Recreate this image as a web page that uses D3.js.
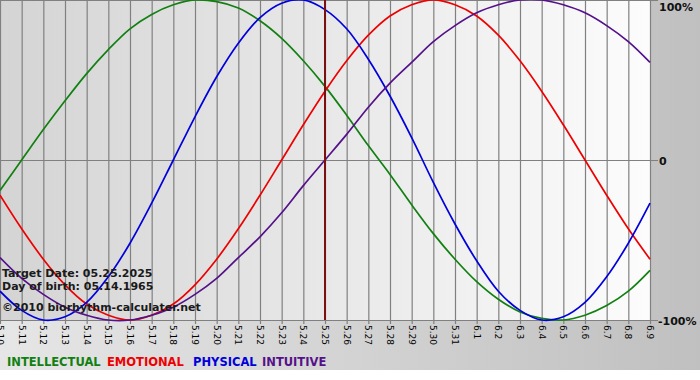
<!DOCTYPE html>
<html>
<head>
<meta charset="utf-8">
<script src="https://d3js.org/d3.v7.min.js"></script>
<style>
    body { margin: 0; background: #ffffff; }
    svg { display: block; }
</style>
</head>
<body>
<svg id="chart" width="700" height="380"></svg>
<script>
// day labels along the bottom
let dates = ['5.10', '5.11', '5.12', '5.13', '5.14', '5.15', '5.16', '5.17', '5.18', '5.19',
             '5.20', '5.21', '5.22', '5.23', '5.24', '5.25', '5.26', '5.27', '5.28', '5.29',
             '5.30', '5.31', '6.1', '6.2', '6.3', '6.4', '6.5', '6.6', '6.7', '6.8', '6.9'];

// values in percent for each day
let intellectual = [-19, 0, 19, 37, 54, 69, 82, 91, 97, 100, 99, 95, 87, 76, 62, 46,
                    28, 9, -9, -28, -46, -62, -76, -87, -95, -99, -100, -97, -91, -82, -69];
let emotional = [-22, -43, -62, -78, -90, -97, -100, -97, -90, -78, -62, -43, -22, 0, 22, 43,
                 62, 78, 90, 97, 100, 97, 90, 78, 62, 43, 22, 0, -22, -43, -62];
let physical = [-82, -94, -100, -98, -89, -73, -52, -27, 0, 27, 52, 73, 89, 98, 100, 94,
                82, 63, 40, 14, -14, -40, -63, -82, -94, -100, -98, -89, -73, -52, -27];
let intuitive = [-61, -74, -84, -92, -97, -100, -100, -97, -92, -84, -74, -61, -48, -33, -16, 0,
                 16, 33, 48, 61, 74, 84, 92, 97, 100, 100, 97, 92, 84, 74, 61];

let yTicks = [100, 0, -100];
let targetDay = '5.25';
let infoLines = ['Target Date: 05.25.2025', 'Day of birth: 05.14.1965', '\u00a92010 biorhythm-calculater.net'];

let seriesNames = ['INTELLECTUAL', 'EMOTIONAL', 'PHYSICAL', 'INTUITIVE'];
let seriesColors = ['#118011', '#ee0000', '#0000dd', '#55118a'];
let seriesValues = [intellectual, emotional, physical, intuitive];

let svg = d3.select('#chart');
let plotW = 650, plotH = 320;

let defs = svg.append('defs');
let outerGrad = defs.append('linearGradient').attr('id', 'outerGrad');
outerGrad.append('stop').attr('offset', '0%').attr('stop-color', '#e6e6e6');
outerGrad.append('stop').attr('offset', '100%').attr('stop-color', '#c0c0c0');
let plotGrad = defs.append('linearGradient').attr('id', 'plotGrad');
plotGrad.append('stop').attr('offset', '0%').attr('stop-color', '#d4d4d4');
plotGrad.append('stop').attr('offset', '100%').attr('stop-color', '#fcfcfc');

// backgrounds
svg.append('rect').attr('width', 700).attr('height', 370).attr('fill', 'url(#outerGrad)');
svg.append('rect').attr('width', plotW).attr('height', plotH).attr('fill', 'url(#plotGrad)');

let x = d3.scalePoint().domain(dates).range([0, plotW]);
let y = d3.scaleLinear().domain([-100, 100]).range([plotH, 0]);

// vertical grid lines, each one with a short tick below the plot
svg.append('g').selectAll('line').data(dates).join('line')
    .attr('x1', d => x(d) + 0.5).attr('x2', d => x(d) + 0.5)
    .attr('y1', 0).attr('y2', plotH + 4)
    .attr('stroke', '#808080').attr('stroke-width', 1.2);

// horizontal grid lines
svg.append('g').selectAll('line').data(yTicks).join('line')
    .attr('x1', 0).attr('x2', plotW + 8)
    .attr('y1', d => y(d) + 0.5).attr('y2', d => y(d) + 0.5)
    .attr('stroke', '#808080').attr('stroke-width', 1.2);

// rotated day labels (the first one runs off the left edge, as in the original)
svg.append('g').selectAll('text').data(dates).join('text')
    .attr('transform', d => 'translate(' + x(d) + ',' + (plotH + 5) + ') rotate(90)')
    .attr('dy', '0.35em')
    .style('font-family', 'DejaVu Sans, Verdana, sans-serif')
    .style('font-size', '9px')
    .attr('fill', '#000')
    .text(d => d);

// percent labels on the right
svg.append('g').selectAll('text').data(yTicks).join('text')
    .attr('x', d => d < 0 ? 658 : 659)
    .attr('y', d => d == 100 ? 11 : y(d) + 5)
    .style('font-family', 'DejaVu Sans, Verdana, sans-serif')
    .style('font-size', '11px')
    .style('font-weight', 'bold')
    .attr('fill', '#111')
    .text(d => d == 0 ? '0' : d + '%');

// the four curves
let line = d3.line()
    .x((d, i) => x(dates[i]))
    .y(d => y(d))
    .curve(d3.curveCatmullRom);

let curveGroup = svg.append('g');
curveGroup.selectAll('path').data(seriesValues).join('path')
    .attr('d', d => line(d))
    .attr('fill', 'none')
    .attr('stroke', (d, i) => seriesColors[i])
    .attr('stroke-width', 1.7);

// marker for the target date
svg.append('line')
    .attr('x1', x(targetDay)).attr('x2', x(targetDay))
    .attr('y1', 0).attr('y2', plotH)
    .attr('stroke', '#7a1010').attr('stroke-width', 2);

// info text over the curves
svg.append('g').selectAll('text').data(infoLines).join('text')
    .attr('x', 2)
    .attr('y', (d, i) => [277, 290, 311][i])
    .style('font-family', 'DejaVu Sans, Verdana, sans-serif')
    .style('font-size', '11px')
    .style('font-weight', 'bold')
    .attr('fill', '#1a1a1a')
    .text(d => d);

// legend
let legendX = [7, 107, 193, 262];
svg.append('g').selectAll('text').data(seriesNames).join('text')
    .attr('x', (d, i) => legendX[i])
    .attr('y', 366)
    .style('font-family', 'DejaVu Sans, Verdana, sans-serif')
    .style('font-size', '11.5px')
    .style('font-weight', 'bold')
    .attr('fill', (d, i) => seriesColors[i])
    .text(d => d);
</script>
</body>
</html>
